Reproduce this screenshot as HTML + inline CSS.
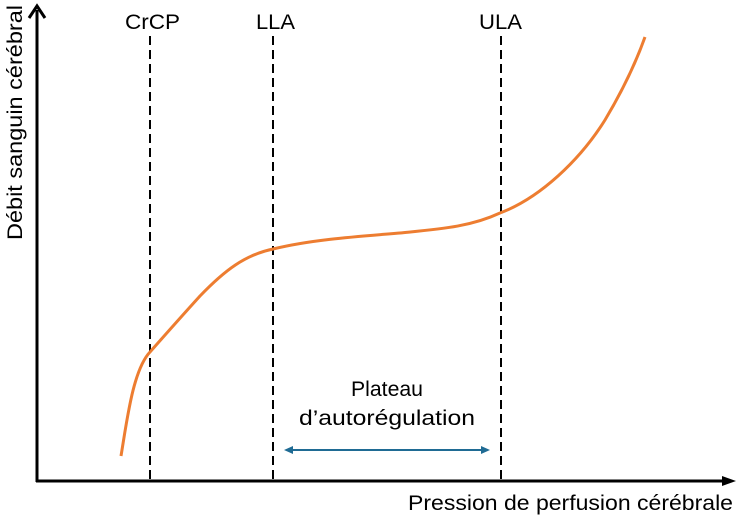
<!DOCTYPE html>
<html><head><meta charset="utf-8"><style>html,body{margin:0;padding:0;background:#fff;}svg{display:block}</style></head>
<body>
<svg width="741" height="516" xmlns="http://www.w3.org/2000/svg" font-family="Liberation Sans, sans-serif">
<line x1="37" y1="482" x2="37" y2="10" stroke="#000" stroke-width="3"/>
<path d="M29 18 L37 6 L45 18" fill="none" stroke="#000" stroke-width="3"/>
<line x1="36" y1="481" x2="732" y2="481" stroke="#000" stroke-width="3"/>
<path d="M722 476 L736 481 L722 486 Z" fill="#000"/>
<g stroke="#000" stroke-width="2" stroke-dasharray="9,5">
<line x1="150" y1="36" x2="150" y2="479"/>
<line x1="273" y1="36" x2="273" y2="479"/>
<line x1="501" y1="36" x2="501" y2="479"/>
</g>
<path d="M121 456 C127 420 133 370 150 352 C165 335 180 318 200 296 C225 270 245 255 273 249 C310 240 350 237 400 233 C440 229 470 227 500 213 C540 198 580 160 605 120 C620 95 635 65 645 37" fill="none" stroke="#ed7d31" stroke-width="3"/>
<line x1="292" y1="450" x2="482" y2="450" stroke="#1f6b94" stroke-width="2"/>
<path d="M284 450 L293 446 L293 454 Z M490 450 L481 446 L481 454 Z" fill="#1f6b94"/>
<g font-size="21" fill="#000">
<text x="125" y="29" textLength="55" lengthAdjust="spacingAndGlyphs">CrCP</text>
<text x="256" y="29" textLength="39" lengthAdjust="spacingAndGlyphs">LLA</text>
<text x="479" y="29" textLength="43" lengthAdjust="spacingAndGlyphs">ULA</text>
<text x="351" y="396" textLength="72" lengthAdjust="spacingAndGlyphs">Plateau</text>
<text x="299" y="425" textLength="176" lengthAdjust="spacingAndGlyphs">d’autorégulation</text>
<text x="408" y="510" textLength="325" lengthAdjust="spacingAndGlyphs">Pression de perfusion cérébrale</text>
<text transform="translate(22,240) rotate(-90)" textLength="235" lengthAdjust="spacingAndGlyphs">Débit sanguin cérébral</text>
</g>
</svg>
</body></html>
